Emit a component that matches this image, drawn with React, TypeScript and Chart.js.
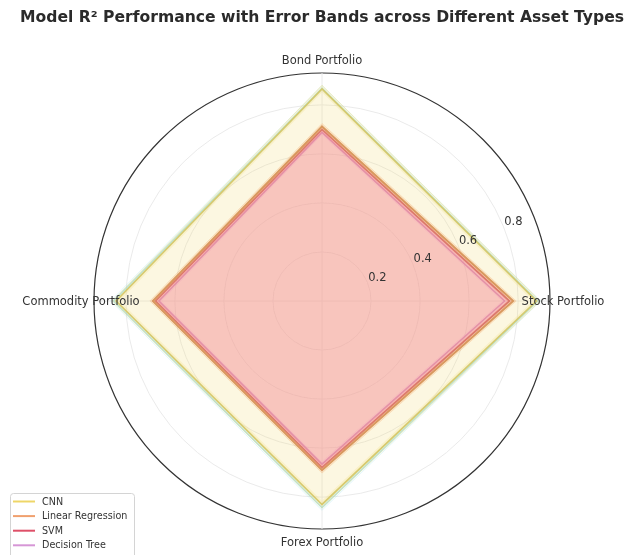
import React, { useEffect, useRef } from "react";
import { Chart, registerables } from "chart.js";

Chart.register(...registerables);

// ---- data ----
const categories = ["Bond Portfolio", "Stock Portfolio", "Forex Portfolio", "Commodity Portfolio"];
const modelNames = ["CNN", "Linear Regression", "SVM", "Decision Tree", "Random Forest"];
const cnnR2 = [0.865, 0.875, 0.83, 0.84];
const cnnErr = [0.015, 0.015, 0.015, 0.015];
const lrR2 = [0.712, 0.78, 0.69, 0.69];
const lrErr = [0.012, 0.012, 0.012, 0.012];
const svmR2 = [0.7, 0.765, 0.68, 0.68];
const svmErr = [0.012, 0.012, 0.012, 0.012];
const dtR2 = [0.688, 0.745, 0.665, 0.665];
const dtErr = [0.012, 0.012, 0.012, 0.012];
const rfR2 = [0.868, 0.88, 0.842, 0.85];
const rfErr = [0.012, 0.012, 0.012, 0.012];
const radialTicks = [0.2, 0.4, 0.6, 0.8];
const titleText = "Model R\u00B2 Performance with Error Bands across Different Asset Types";

// ---- styles ----
const modelColors = [
  [238, 214, 104],
  [245, 160, 110],
  [250, 90, 135],
  [235, 150, 235],
  [150, 222, 232],
];
const legendColors = [
  [238, 214, 104],
  [240, 160, 110],
  [222, 80, 104],
  [214, 150, 214],
  [150, 222, 232],
];
const lineColors = [
  [205, 196, 105],
  [200, 125, 80],
  [195, 75, 85],
  [205, 130, 200],
  [140, 215, 225],
];
const centerFillAlpha = [0.2, 0.08, 0.28, 0.18, 0.0];
const bandAlpha = [0.2, 0.2, 0.2, 0.18, 0.1];
const lineAlpha = [0.95, 0.95, 0.9, 0.95, 0.65];
const lineWidths = [1.7, 2, 1.8, 1.6, 1.4];

const rgba = (c: number[], a: number) => `rgba(${c[0]},${c[1]},${c[2]},${a})`;

const seriesValues = [cnnR2, lrR2, svmR2, dtR2, rfR2];
const seriesErrors = [cnnErr, lrErr, svmErr, dtErr, rfErr];

function buildDatasets() {
  const ds: any[] = [];
  modelNames.forEach((name, m) => {
    const vals = seriesValues[m];
    const errs = seriesErrors[m];
    const col = modelColors[m];
    ds.push({
      label: "",
      data: vals.map((v, i) => v - errs[i]),
      borderWidth: 0,
      borderColor: "rgba(0,0,0,0)",
      pointRadius: 0,
      fill: false,
    });
    ds.push({
      label: "",
      data: vals.map((v, i) => v + errs[i]),
      borderWidth: 0.8,
      borderColor: rgba(col, bandAlpha[m] + 0.15),
      backgroundColor: rgba(col, bandAlpha[m]),
      pointRadius: 0,
      fill: "-1",
    });
    ds.push({
      label: name,
      isLegend: true,
      legendColor: rgba(legendColors[m], 1),
      data: vals,
      borderWidth: lineWidths[m],
      borderColor: rgba(lineColors[m], lineAlpha[m]),
      backgroundColor: rgba(col, centerFillAlpha[m]),
      pointRadius: 0,
      fill: centerFillAlpha[m] > 0 ? "origin" : false,
    });
  });
  return ds;
}

const overlayPlugin = {
  id: "overlayText",
  afterDraw(chart: any) {
    const ctx = chart.ctx;
    const r = chart.scales.r;
    ctx.save();
    // radial tick labels at 22.5 degrees
    ctx.font = '11.5px "DejaVu Sans"';
    ctx.fillStyle = "#333333";
    ctx.textAlign = "left";
    ctx.textBaseline = "middle";
    const ang = (22.5 * Math.PI) / 180;
    radialTicks.forEach((v) => {
      const d = r.getDistanceFromCenterForValue(v);
      ctx.fillText(v.toFixed(1), r.xCenter + d * Math.cos(ang) + 1, r.yCenter - d * Math.sin(ang) - 4);
    });
    // category labels
    ctx.textAlign = "center";
    chart.data.labels.forEach((lab: string, i: number) => {
      const p = r.getPointPosition(i, r.drawingArea + 13);
      ctx.fillText(lab, p.x, p.y + 1);
    });
    // legend
    const items = chart.data.datasets.filter((d: any) => d.isLegend);
    const bx = 10.5, by = 493.5, bw = 124, bh = 14.6 * items.length + 8;
    ctx.beginPath();
    if (ctx.roundRect) ctx.roundRect(bx, by, bw, bh, 3);
    else ctx.rect(bx, by, bw, bh);
    ctx.fillStyle = "rgba(255,255,255,0.85)";
    ctx.fill();
    ctx.strokeStyle = "#d4d4d4";
    ctx.lineWidth = 1;
    ctx.stroke();
    ctx.font = '9.6px "DejaVu Sans"';
    ctx.textAlign = "left";
    items.forEach((d: any, k: number) => {
      const y = 501.5 + k * 14.6;
      ctx.beginPath();
      ctx.moveTo(13, y);
      ctx.lineTo(35, y);
      ctx.strokeStyle = d.legendColor;
      ctx.lineWidth = 2;
      ctx.stroke();
      ctx.fillStyle = "#333333";
      ctx.fillText(d.label, 42, y + 0.5);
    });
    ctx.restore();
  },
};

export default function App() {
  const ref = useRef<HTMLCanvasElement | null>(null);
  useEffect(() => {
    document.body.style.margin = "0";
    if (!ref.current) return;
    const chart = new Chart(ref.current, {
      type: "radar",
      data: { labels: categories, datasets: buildDatasets() },
      options: {
        responsive: false,
        animation: false,
        layout: { padding: { top: 0, left: 15, right: 0, bottom: 26 } },
        elements: { line: { tension: 0, borderJoinStyle: "miter" }, point: { radius: 0 } },
        plugins: {
          legend: { display: false },
          tooltip: { enabled: false },
          filler: { propagate: false },
          title: {
            display: true,
            text: titleText,
            color: "#2a2a2a",
            font: { family: "DejaVu Sans", size: 15.6, weight: "bold", lineHeight: 1.2 },
            padding: { top: 8.6, bottom: 45.68 },
          },
        },
        scales: {
          r: {
            min: 0,
            max: 0.93,
            ticks: { display: false, stepSize: 0.2 },
            pointLabels: { display: false },
            grid: {
              circular: true,
              color: (c: any) => (c.tick && c.tick.value > 0.9 ? "#333333" : "#e8e8e8"),
              lineWidth: (c: any) => (c.tick && c.tick.value > 0.9 ? 1.2 : 0.9),
            },
            angleLines: { color: "#e8e8e8", lineWidth: 0.9 },
          },
        },
      } as any,
      plugins: [overlayPlugin],
    });
    return () => chart.destroy();
  }, []);
  return <canvas ref={ref} width={629} height={555} style={{ display: "block" }} />;
}
